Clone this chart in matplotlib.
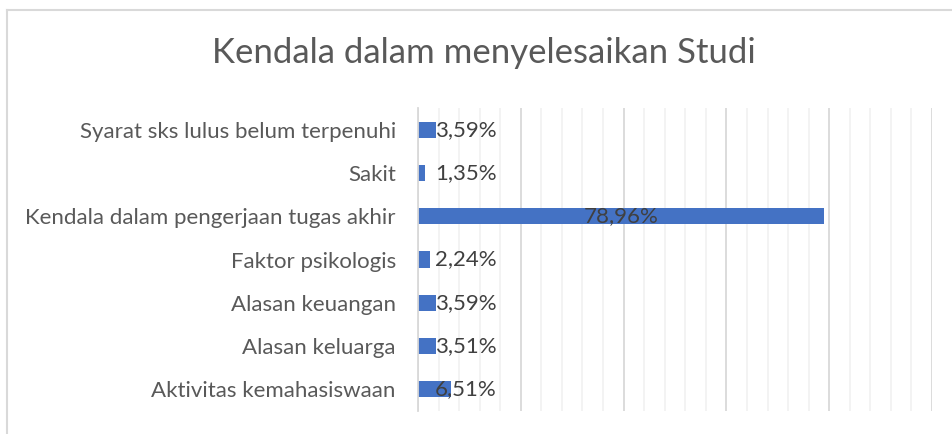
import matplotlib
matplotlib.use("Agg")
import matplotlib.pyplot as plt
import numpy as np
from matplotlib.lines import Line2D
from matplotlib.ticker import MultipleLocator
import matplotlib.transforms as mtransforms

categories = [
    "Syarat sks lulus belum terpenuhi",
    "Sakit",
    "Kendala dalam pengerjaan tugas akhir",
    "Faktor psikologis",
    "Alasan keuangan",
    "Alasan keluarga",
    "Aktivitas kemahasiswaan",
]
values = [3.59, 1.35, 78.96, 2.24, 3.59, 3.51, 6.51]
value_labels = ["3,59%", "1,35%", "78,96%", "2,24%", "3,59%", "3,51%", "6,51%"]
title = "Kendala dalam menyelesaikan Studi"

plt.rcParams['font.family'] = ['Lato', 'DejaVu Sans']
W, H = 953, 434
fig = plt.figure(figsize=(W / 100, H / 100), dpi=100)
fig.patch.set_facecolor("white")

ax = fig.add_axes([418 / W, 1 - 411 / H, (932 - 418) / W, (411 - 108) / H])
y = np.arange(len(categories))
ax.barh(y, values, height=0.37, color="#4472C4", zorder=3)
ax.set_xlim(0, 100)
ax.set_ylim(len(categories) - 0.5, -0.5)

ax.xaxis.set_major_locator(MultipleLocator(20))
ax.xaxis.set_minor_locator(MultipleLocator(4))
ax.grid(axis="x", which="major", color="#D9D9D9", linewidth=1.3, zorder=1)
ax.grid(axis="x", which="minor", color="#F0F0F0", linewidth=1.1, zorder=0)
ax.tick_params(axis="x", which="both", length=0, labelbottom=False)
ax.set_yticks(y)
ax.set_yticklabels(categories, fontsize=16, color="#595959")
ax.tick_params(axis="y", length=0, pad=16)
for s in ["top", "right", "bottom"]:
    ax.spines[s].set_visible(False)
ax.spines["left"].set_color("#D9D9D9")
ax.spines["left"].set_linewidth(1.3)
ax.spines["left"].set_zorder(4)

for i, (v, lab) in enumerate(zip(values, value_labels)):
    if v > 20:
        ax.text(v / 2, i, lab, ha="center", va="center", fontsize=16,
                color="#404040", zorder=5)
    else:
        tr = mtransforms.offset_copy(ax.transData, fig=fig, x=17 * 0.72, y=0, units="points")
        ax.text(0, i, lab, ha="left", va="center", fontsize=16,
                color="#404040", zorder=5, transform=tr)

fig.text(484 / W, 1 - 53 / H, title, ha="center", va="center", fontsize=25,
         color="#595959")

# chart frame
fig.add_artist(Line2D([7 / W, 7 / W], [0, 1 - 10 / H], color="#D9D9D9", linewidth=1.5))
fig.add_artist(Line2D([7 / W, 1], [1 - 10 / H, 1 - 10 / H], color="#D9D9D9", linewidth=1.5))

fig.savefig("out.png", dpi=100)
